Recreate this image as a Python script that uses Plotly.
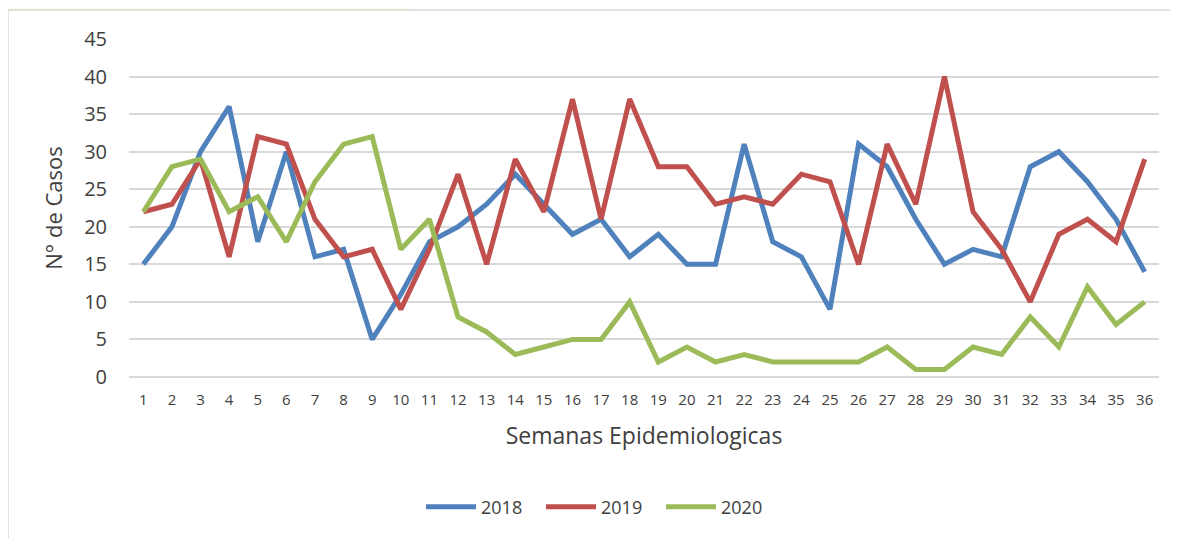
import plotly.graph_objects as go

weeks = list(range(1, 37))
y2018 = [15, 20, 30, 36, 18, 30, 16, 17, 5, 11, 18, 20, 23, 27, 23, 19, 21, 16, 19, 15, 15, 31, 18, 16, 9, 31, 28, 21, 15, 17, 16, 28, 30, 26, 21, 14]
y2019 = [22, 23, 29, 16, 32, 31, 21, 16, 17, 9, 17, 27, 15, 29, 22, 37, 21, 37, 28, 28, 23, 24, 23, 27, 26, 15, 31, 23, 40, 22, 17, 10, 19, 21, 18, 29]
y2020 = [22, 28, 29, 22, 24, 18, 26, 31, 32, 17, 21, 8, 6, 3, 4, 5, 5, 10, 2, 4, 2, 3, 2, 2, 2, 2, 4, 1, 1, 4, 3, 8, 4, 12, 7, 10]
series_names = ["2018", "2019", "2020"]
colors = ["#4F81BD", "#C0504D", "#9BBB59"]
y_ticks = [0, 5, 10, 15, 20, 25, 30, 35, 40, 45]

FONT = "Open Sans, Lato, sans-serif"

# page-pixel -> paper coordinate helpers (plot area spans x 129..1159, y 39..377 on the page)
def px(x):
    return (x - 129) / 1030.0

def py(y):
    return (377 - y) / 338.0

fig = go.Figure()
for name, ys, c in zip(series_names, [y2018, y2019, y2020], colors):
    fig.add_trace(go.Scatter(x=weeks, y=ys, name=name, mode="lines",
                             line=dict(color=c, width=5)))

tint_orange = "#FEF6EA"
tint_green = "#F3F8EE"
shapes = [
    dict(type="path", xref="paper", yref="paper",
         path=f"M {px(0)},{py(0)} L {px(425)},{py(0)} L {px(410)},{py(10)} L {px(8)},{py(10)} L {px(8)},{py(120)} L {px(0)},{py(120)} Z",
         line=dict(width=0), fillcolor=tint_orange, layer="below"),
    dict(type="rect", xref="paper", yref="paper", x0=px(0), x1=px(7), y0=py(445), y1=py(380),
         line=dict(width=0), fillcolor=tint_green, layer="below"),
    dict(type="rect", xref="paper", yref="paper", x0=px(0), x1=px(7), y0=py(538), y1=py(470),
         line=dict(width=0), fillcolor=tint_orange, layer="below"),
    dict(type="rect", xref="paper", yref="paper", x0=px(8), x1=px(1300), y0=py(600), y1=py(10),
         line=dict(color="#D9D9D9", width=1.5), fillcolor="rgba(0,0,0,0)", layer="below"),
]

fig.update_layout(
    width=1178, height=538,
    margin=dict(l=121, r=27, t=31, b=169, autoexpand=False),
    paper_bgcolor="white", plot_bgcolor="white",
    font=dict(family=FONT, color="#595959"),
    showlegend=True,
    legend=dict(orientation="h", x=px(601), xanchor="center", y=py(507), yanchor="middle",
                font=dict(size=18, color="#404040"), itemwidth=50, entrywidth=55,
                traceorder="normal"),
    xaxis=dict(range=[0.5, 36.5], tickmode="array", tickvals=weeks, automargin=False,
               ticktext=[str(w) for w in weeks], showgrid=False, zeroline=False,
               showline=False, ticks="", tickfont=dict(size=15, color="#404040"),
               ticklabelstandoff=12,
               title=dict(text="Semanas Epidemiologicas", font=dict(size=23, color="#404040"), standoff=19)),
    yaxis=dict(range=[0, 45], tickmode="array", tickvals=y_ticks, showgrid=True, automargin=False,
               gridcolor="#D9D9D9", gridwidth=1.5, zeroline=True, zerolinecolor="#D9D9D9",
               zerolinewidth=1.5, ticks="", tickfont=dict(size=20, color="#404040"),
               ticklabelstandoff=21,
               title=dict(text="N° de Casos", font=dict(size=22, color="#404040"), standoff=15)),
    shapes=shapes,
)
fig.write_html("out.html")
